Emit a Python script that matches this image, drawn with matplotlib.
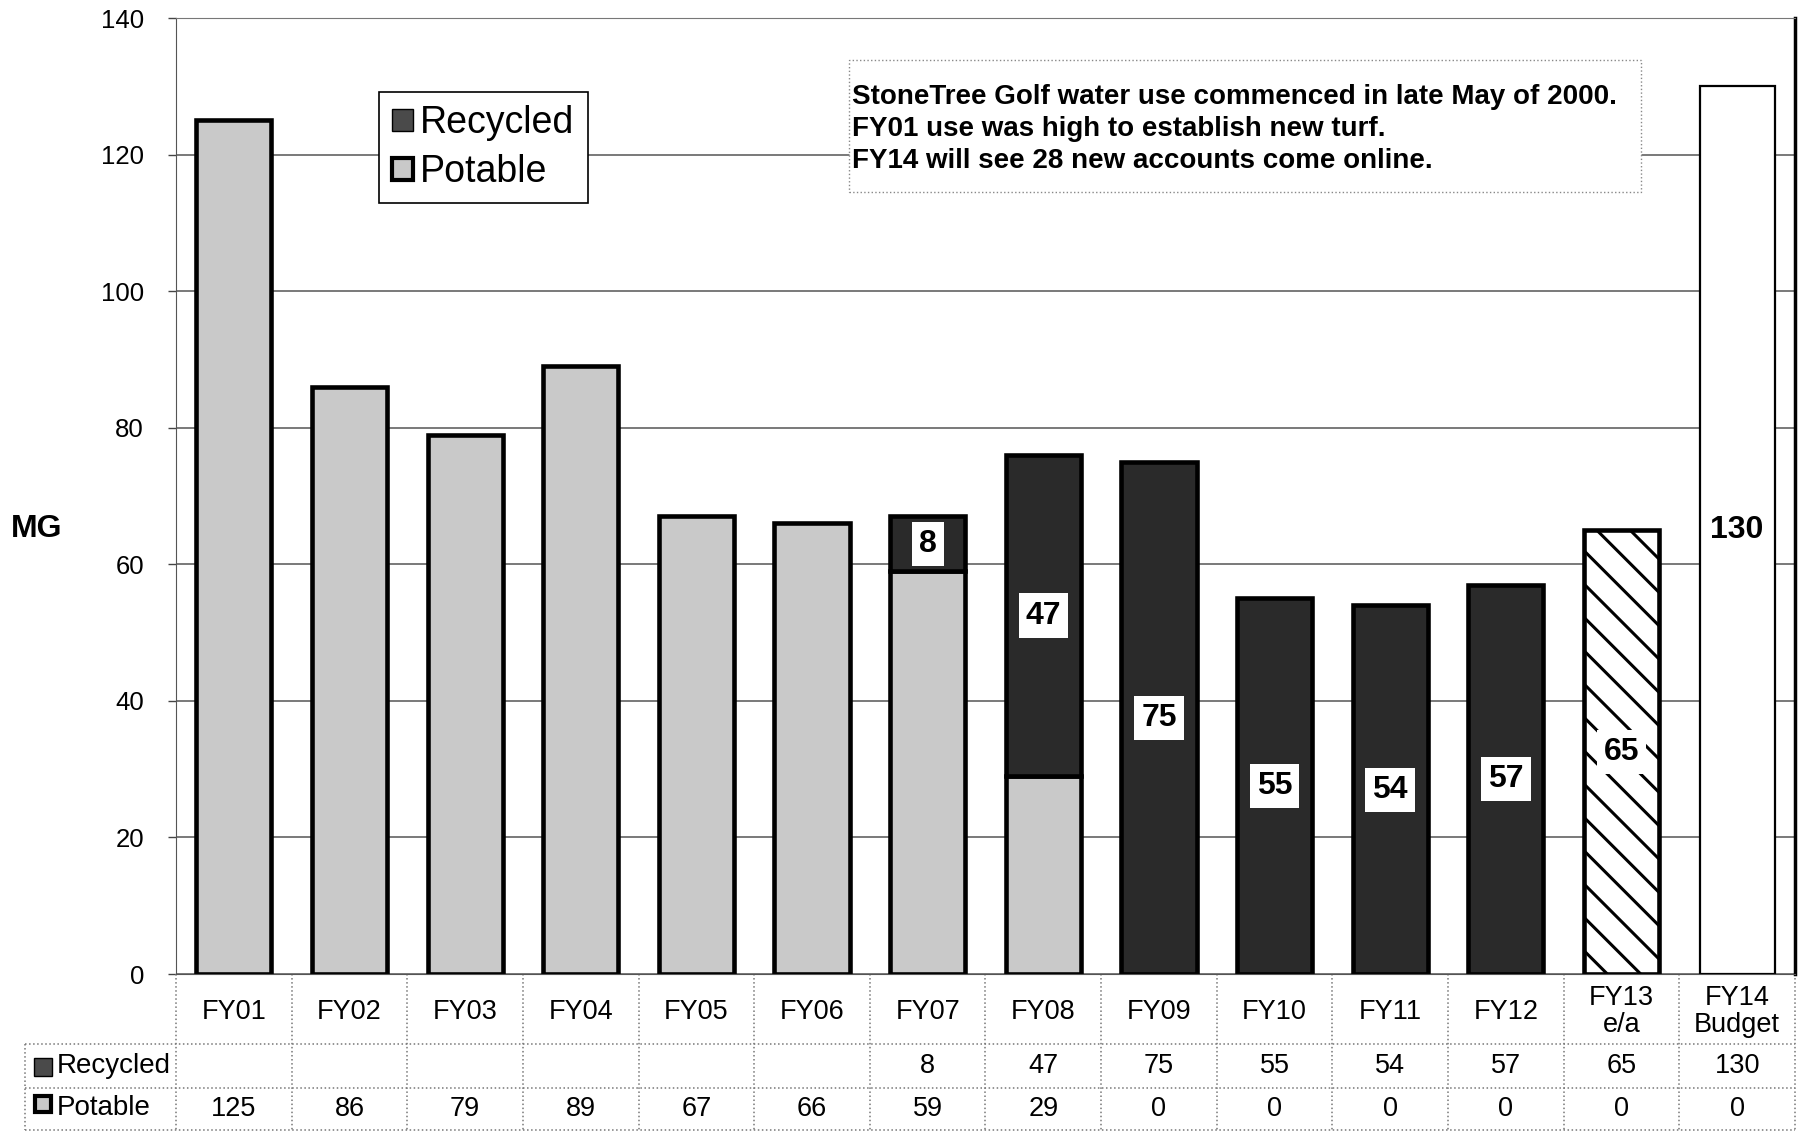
import matplotlib
matplotlib.use("Agg")
import matplotlib.pyplot as plt
from matplotlib.patches import Patch, Rectangle
from matplotlib.transforms import blended_transform_factory

plt.rcParams['font.family'] = ['Liberation Sans', 'DejaVu Sans']
plt.rcParams['hatch.linewidth'] = 2.2

# fiscal year water use (MG)
categories = ['FY01', 'FY02', 'FY03', 'FY04', 'FY05', 'FY06', 'FY07',
              'FY08', 'FY09', 'FY10', 'FY11', 'FY12', 'FY13\ne/a', 'FY14\nBudget']
recycled = [None, None, None, None, None, None, 8, 47, 75, 55, 54, 57, 65, 130]
potable = [125, 86, 79, 89, 67, 66, 59, 29, 0, 0, 0, 0, 0, 0]
note_lines = ['StoneTree Golf water use commenced in late May of 2000.',
              'FY01 use was high to establish new turf.',
              'FY14 will see 28 new accounts come online.']

W, H = 1799, 1141
fig = plt.figure(figsize=(W / 100, H / 100), dpi=100)
ax = fig.add_axes([176 / W, 1 - 974 / H, (1795 - 176) / W, (974 - 18) / H])

light = '#c9c9c9'
dark = '#2a2a2a'
bw = 0.65
x = list(range(len(categories)))
rec = [r if r is not None else 0 for r in recycled]

# potable on the bottom, recycled stacked on top
for i in x:
    if potable[i] > 0:
        ax.bar(i, potable[i], width=bw, color=light, edgecolor='black', linewidth=3.3, zorder=2)
    if rec[i] > 0:
        if i == 12:
            ax.bar(i, rec[i], bottom=potable[i], width=bw, color='white', edgecolor='black',
                   linewidth=3.3, hatch='\\', zorder=2)
        elif i == 13:
            ax.bar(i, rec[i], bottom=potable[i], width=bw, color='white', edgecolor='black',
                   linewidth=1.6, zorder=2)
        else:
            ax.bar(i, rec[i], bottom=potable[i], width=bw, color=dark, edgecolor='black',
                   linewidth=3.3, zorder=2)

# value labels on the recycled part
for i in x:
    if rec[i] <= 0:
        continue
    yc = potable[i] + rec[i] / 2
    if i == 13:
        ax.text(i, yc, str(rec[i]), ha='center', va='center', fontsize=23,
                fontweight='bold', zorder=5)
    else:
        ax.text(i, yc, str(rec[i]), ha='center', va='center', fontsize=23,
                fontweight='bold', zorder=5,
                bbox=dict(boxstyle='square,pad=0.22', facecolor='white', edgecolor='none'))

ax.set_xlim(-0.5, len(categories) - 0.5)
ax.set_ylim(0, 140)
ax.set_yticks(range(0, 141, 20))
ax.set_xticks([])
ax.tick_params(axis='y', labelsize=18.5, length=6, width=1, color='#444444', pad=17)
ax.set_axisbelow(True)
ax.yaxis.grid(True, color='#555555', linewidth=1.1)
ax.spines['top'].set_color('#777777')
ax.spines['left'].set_color('#555555')
ax.spines['bottom'].set_color('#555555')
ax.spines['right'].set_color('black')
ax.spines['right'].set_linewidth(2.5)

fig.text(37 / W, 1 - 529 / H, 'MG', ha='center', va='center', fontsize=23,
         fontweight='bold')

# legend
handles = [Patch(facecolor='#4a4a4a', edgecolor='black', linewidth=1),
           Patch(facecolor=light, edgecolor='black', linewidth=3)]
leg = ax.legend(handles, ['Recycled', 'Potable'], loc='upper left',
                bbox_to_anchor=(379 / W, 1 - 92 / H), bbox_transform=fig.transFigure,
                borderaxespad=0, fancybox=False, framealpha=1, edgecolor='black',
                prop={'size': 27}, handlelength=0.55, handleheight=0.55,
                handletextpad=0.2, borderpad=0.35, labelspacing=0.35)
leg.get_frame().set_linewidth(1.2)
leg.set_zorder(6)

# note box
note = Rectangle((849 / W, 1 - 192 / H), (1641 - 849) / W, (192 - 60) / H,
                 transform=fig.transFigure, facecolor='white', edgecolor='#888888',
                 linestyle=':', linewidth=1, zorder=1, clip_on=False)
ax.add_patch(note)
for k, line in enumerate(note_lines):
    ax.text(852 / W, 1 - (97 + 32 * k) / H, line, transform=fig.transFigure,
            ha='left', va='center', fontsize=20, fontweight='bold', zorder=3)

# data table under the axis
tr = blended_transform_factory(ax.transData, ax.transAxes)
y_hdr, y_r1, y_r2 = -0.0732, -0.1192, -0.1632
x_tab = -0.5 - (176 - 25) / ((1795 - 176) / len(categories))
grid_kw = dict(color='#777777', linestyle=':', linewidth=1.1, transform=tr, clip_on=False)

for yy in (y_hdr, y_r1, y_r2):
    ax.plot([x_tab, len(categories) - 0.5], [yy, yy], **grid_kw)
ax.plot([x_tab, x_tab], [y_hdr, y_r2], **grid_kw)
for k in range(len(categories) + 1):
    ax.plot([k - 0.5, k - 0.5], [0, y_r2], **grid_kw)

for i, c in enumerate(categories):
    ax.text(i, (0 + y_hdr) / 2 - 0.003, c, transform=tr, ha='center', va='center',
            fontsize=19.5, linespacing=1.05, clip_on=False)
    if recycled[i] is not None:
        ax.text(i, (y_hdr + y_r1) / 2, str(recycled[i]), transform=tr, ha='center',
                va='center', fontsize=19.5, clip_on=False)
    ax.text(i, (y_r1 + y_r2) / 2, str(potable[i]), transform=tr, ha='center',
            va='center', fontsize=19.5, clip_on=False)

# row labels with small swatches
fig.text(57 / W, 1 - 1066 / H, 'Recycled', ha='left', va='center', fontsize=20)
fig.text(57 / W, 1 - 1108 / H, 'Potable', ha='left', va='center', fontsize=20)
fig.add_artist(Rectangle((34 / W, 1 - 1076 / H), 18 / W, 18 / H, transform=fig.transFigure,
                         facecolor='#4a4a4a', edgecolor='black', linewidth=1))
fig.add_artist(Rectangle((35 / W, 1 - 1112 / H), 16 / W, 16 / H, transform=fig.transFigure,
                         facecolor=light, edgecolor='black', linewidth=3))

fig.savefig('out.png', dpi=100, facecolor='white')
